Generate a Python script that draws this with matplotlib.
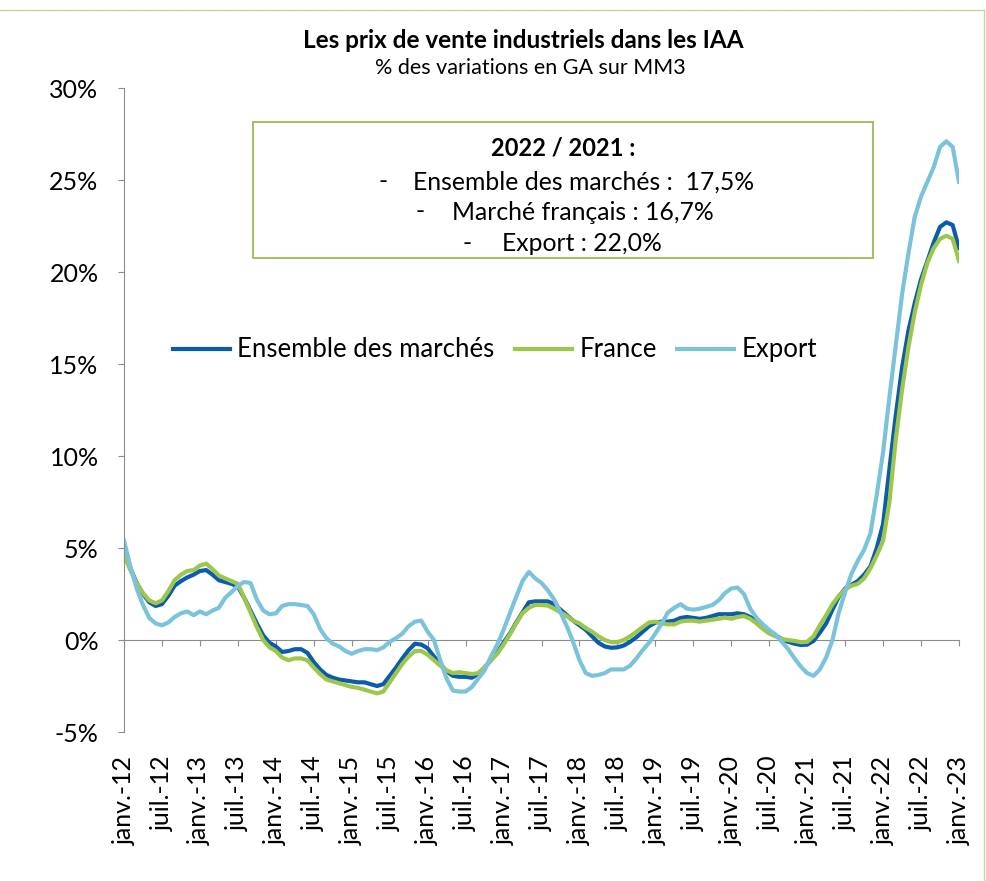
import matplotlib.pyplot as plt
from matplotlib.patches import Rectangle
from matplotlib.lines import Line2D

plt.rcParams['font.family'] = 'Lato'

# monthly values, janv.-12 .. janv.-23 (133 months)
ensemble = [
    4.7, 3.9, 3.1, 2.5, 2.05, 1.85, 1.95, 2.4, 2.95, 3.2, 3.4, 3.55,
    3.75, 3.8, 3.55, 3.25, 3.15, 3.05, 2.9, 2.3, 1.6, 0.9, 0.25, -0.15,
    -0.35, -0.65, -0.6, -0.5, -0.5, -0.7, -1.2, -1.6, -1.9, -2.05, -2.15, -2.2,
    -2.25, -2.3, -2.3, -2.4, -2.5, -2.4, -1.95, -1.5, -1.0, -0.55, -0.2, -0.25,
    -0.45, -0.9, -1.3, -1.7, -1.95, -2.0, -2.0, -2.05, -1.85, -1.5, -1.1, -0.7,
    -0.15, 0.35, 0.95, 1.5, 2.05, 2.1, 2.1, 2.1, 1.95, 1.65, 1.35, 1.05,
    0.8, 0.55, 0.2, -0.15, -0.35, -0.42, -0.4, -0.3, -0.1, 0.15, 0.45, 0.75,
    0.95, 1.0, 1.0, 1.05, 1.2, 1.25, 1.2, 1.15, 1.2, 1.3, 1.4, 1.4,
    1.4, 1.45, 1.4, 1.25, 1.0, 0.7, 0.45, 0.25, 0.05, -0.1, -0.2, -0.27,
    -0.25, -0.05, 0.4, 0.9, 1.65, 2.35, 2.8, 3.0, 3.2, 3.55, 4.0, 5.0,
    6.3, 9.3, 12.2, 14.8, 16.8, 18.3, 19.6, 20.6, 21.6, 22.45, 22.7, 22.55,
    21.3,
]
france = [
    4.6, 3.8, 3.1, 2.55, 2.15, 2.0, 2.15, 2.65, 3.25, 3.55, 3.75, 3.8,
    4.05, 4.15, 3.85, 3.5, 3.35, 3.2, 3.05, 2.3, 1.5, 0.7, 0.0, -0.4,
    -0.6, -0.95, -1.1, -1.0, -1.0, -1.1, -1.5, -1.85, -2.15, -2.25, -2.35, -2.45,
    -2.55, -2.6, -2.7, -2.8, -2.9, -2.8, -2.3, -1.8, -1.3, -0.9, -0.6, -0.6,
    -0.8, -1.1, -1.4, -1.65, -1.8, -1.75, -1.8, -1.85, -1.8, -1.5, -1.1, -0.75,
    -0.25, 0.3, 0.9, 1.45, 1.75, 1.9, 1.9, 1.87, 1.7, 1.5, 1.3, 1.05,
    0.9, 0.65, 0.45, 0.2, 0.0, -0.12, -0.12, 0.0, 0.2, 0.45, 0.7, 0.95,
    1.0, 0.9, 0.85, 0.85, 1.0, 1.05, 1.05, 1.0, 1.05, 1.1, 1.15, 1.22,
    1.15, 1.25, 1.3, 1.15, 0.9, 0.6, 0.35, 0.2, 0.05, 0.0, -0.05, -0.12,
    -0.1, 0.2, 0.8, 1.35, 1.95, 2.4, 2.75, 2.95, 3.05, 3.35, 3.9, 4.6,
    5.4, 7.5, 10.9, 13.6, 15.9, 17.8, 19.3, 20.5, 21.3, 21.8, 21.97, 21.8,
    20.6,
]
export = [
    5.4, 4.0, 2.8, 1.9, 1.2, 0.9, 0.8, 0.95, 1.25, 1.45, 1.55, 1.35,
    1.55, 1.4, 1.6, 1.75, 2.3, 2.6, 2.95, 3.15, 3.1, 2.2, 1.6, 1.4,
    1.45, 1.85, 1.95, 1.95, 1.9, 1.85, 1.4, 0.6, 0.1, -0.2, -0.35, -0.6,
    -0.75, -0.6, -0.5, -0.5, -0.55, -0.4, -0.1, 0.1, 0.35, 0.75, 1.0, 1.05,
    0.45, 0.0, -1.1, -2.1, -2.75, -2.8, -2.8, -2.55, -2.1, -1.65, -0.9, -0.25,
    0.55, 1.45, 2.35, 3.2, 3.7, 3.35, 3.1, 2.7, 2.2, 1.5, 0.75, -0.1,
    -1.1, -1.8, -1.95, -1.9, -1.8, -1.6, -1.6, -1.6, -1.4, -1.0, -0.55, -0.15,
    0.35, 0.9, 1.5, 1.75, 1.95, 1.7, 1.65, 1.7, 1.8, 1.9, 2.15, 2.55,
    2.8, 2.85, 2.5, 1.7, 1.2, 0.85, 0.55, 0.3, -0.1, -0.5, -1.0, -1.45,
    -1.8, -1.95, -1.6, -0.95, 0.0, 1.5, 2.6, 3.6, 4.3, 4.9, 5.8, 7.9,
    10.2, 13.2, 16.0, 18.8, 21.0, 23.0, 24.1, 24.9, 25.7, 26.8, 27.1, 26.8,
    24.9,
]
tick_labels = [
    'janv.-12', 'juil.-12', 'janv.-13', 'juil.-13', 'janv.-14', 'juil.-14',
    'janv.-15', 'juil.-15', 'janv.-16', 'juil.-16', 'janv.-17', 'juil.-17',
    'janv.-18', 'juil.-18', 'janv.-19', 'juil.-19', 'janv.-20', 'juil.-20',
    'janv.-21', 'juil.-21', 'janv.-22', 'juil.-22', 'janv.-23',
]
months = list(range(len(ensemble)))
tick_pos = months[::6]

W, H = 986, 881
GRAY = '#8c8c8c'

fig = plt.figure(figsize=(W / 100, H / 100), dpi=100)
ax = fig.add_axes([124 / W, 1 - 732 / H, (959 - 124) / W, (732 - 88) / H])

ax.plot(months, ensemble, color='#0b5cad', lw=3.0, label='Ensemble des marchés',
        solid_joinstyle='round')
ax.plot(months, france, color='#9dc74a', lw=3.0, label='France',
        solid_joinstyle='round')
ax.plot(months, export, color='#7bc3da', lw=3.0, label='Export',
        solid_joinstyle='round')

ax.set_xlim(0, 132)
ax.set_ylim(-5, 30)
ax.set_yticks(range(-5, 31, 5))
ax.set_yticklabels([f'{v}%' for v in range(-5, 31, 5)])
ax.set_xticks(tick_pos)
ax.set_xticklabels(tick_labels, rotation=90)

for s in ['top', 'right', 'bottom']:
    ax.spines[s].set_visible(False)
ax.spines['left'].set_color(GRAY)
ax.tick_params(axis='y', direction='out', length=4.3, color=GRAY,
               labelsize=18, pad=14)
ax.tick_params(axis='x', length=0, labelsize=18, pad=17)

# horizontal axis drawn at the 0% level
sec = ax.secondary_xaxis(5 / 35)
sec.set_xticks(tick_pos)
sec.tick_params(direction='out', length=4.3, color=GRAY, labelbottom=False)
sec.spines['bottom'].set_color(GRAY)

fig.legend(loc='center', bbox_to_anchor=(495 / W, 1 - 350 / H), ncol=3,
           frameon=False, fontsize=18.5, handlelength=2.2, handletextpad=0.3,
           columnspacing=0.8)

fig.text(523 / W, 1 - 40 / H, 'Les prix de vente industriels dans les IAA',
         ha='center', va='center', fontsize=17.5, fontweight='bold')
fig.text(530 / W, 1 - 68 / H, '% des variations en GA sur MM3',
         ha='center', va='center', fontsize=15.5)

# annotation box
fig.patches.append(Rectangle((253 / W, 1 - 258 / H), 620 / W, 136 / H,
                             transform=fig.transFigure, fill=False,
                             ec='#9bbb59', lw=1.3))
fig.text(563 / W, 1 - 148 / H, '2022 / 2021 :', ha='center', va='center',
         fontsize=17, fontweight='bold')
box_lines = [
    (383, 413, 182, 'Ensemble des marchés :  17,5%'),
    (420, 452, 212, 'Marché français : 16,7%'),
    (467, 502, 243, 'Export : 22,0%'),
]
for xd, xt, yy, txt in box_lines:
    fig.text(xd / W, 1 - yy / H, '-', ha='center', va='center', fontsize=17.8)
    fig.text(xt / W, 1 - yy / H, txt, ha='left', va='center', fontsize=17.8)

# chart area border (top and right visible)
fig.add_artist(Line2D([0, 984 / W], [1 - 10 / H, 1 - 10 / H],
                      transform=fig.transFigure, color='#c4d79b', lw=1))
fig.add_artist(Line2D([984 / W, 984 / W], [0, 1 - 10 / H],
                      transform=fig.transFigure, color='#c4d79b', lw=1))

fig.savefig('out.png', dpi=100)
